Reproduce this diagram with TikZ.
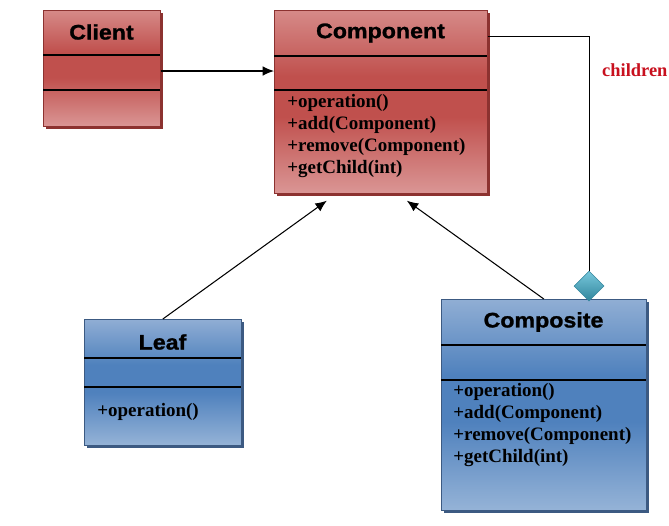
\documentclass[tikz,border=0pt]{standalone}
\usepackage{fontspec}
\setmainfont{Liberation Serif}
\newfontfamily\titlefont[FakeStretch=1.1,FakeBold=1.2]{Liberation Sans Bold}
\usepackage{tikz}
\usetikzlibrary{arrows.meta,calc,positioning,shapes.geometric,shadows}

\definecolor{redlt}{RGB}{218,150,149}
\definecolor{redtop}{RGB}{214,138,136}
\definecolor{reddk}{RGB}{192,80,77}
\definecolor{redsh}{RGB}{140,50,48}
\definecolor{bluelt}{RGB}{149,179,215}
\definecolor{bluetop}{RGB}{144,174,212}
\definecolor{bluedk}{RGB}{79,129,189}
\definecolor{bluesh}{RGB}{60,90,130}
\definecolor{tealdk}{RGB}{49,133,156}
\definecolor{teallt}{RGB}{120,200,220}
\definecolor{rolered}{RGB}{200,16,30}

\pgfdeclareverticalshading{redshade}{100bp}{color(0bp)=(redlt); color(25bp)=(redlt);
  color(46bp)=(reddk); color(57bp)=(reddk); color(75bp)=(redtop); color(100bp)=(redtop)}
\pgfdeclareverticalshading{blueshade}{100bp}{color(0bp)=(bluelt); color(25bp)=(bluelt);
  color(46bp)=(bluedk); color(57bp)=(bluedk); color(75bp)=(bluetop); color(100bp)=(bluetop)}

\begin{document}
\begin{tikzpicture}[
  x=0.02cm, y=-0.02cm,
  redbox/.style={rectangle, anchor=north west, inner sep=0pt, draw=redsh, line width=0.4pt,
    shading=redshade,
    drop shadow={shadow xshift=1.6pt, shadow yshift=-1.6pt, fill=redsh, opacity=1}},
  bluebox/.style={rectangle, anchor=north west, inner sep=0pt, draw=bluesh, line width=0.4pt,
    shading=blueshade,
    drop shadow={shadow xshift=1.6pt, shadow yshift=-1.6pt, fill=bluesh, opacity=1}},
  classname/.style={font=\titlefont\fontsize{12}{14}\selectfont},
  ops/.style={anchor=north west, align=left, inner sep=0pt,
    font=\bfseries\fontsize{10.8}{12.5}\selectfont},
  sep/.style={line width=0.6pt},
  assoc/.style={line width=0.6pt, -{Latex[length=6.5pt,width=5.5pt]}},
  agg/.style={diamond, minimum size=0.6cm, inner sep=0pt, draw=tealdk, line width=0.3pt,
    top color=teallt, bottom color=tealdk},
]
\useasboundingbox (0,0) rectangle (669,525);

% --- Client ---
\node[redbox, minimum width=2.34cm, minimum height=2.32cm] (client) at (43,10) {};
\node[classname] (clientname) at (101.5,32) {Client};
\draw[sep] (43,55) -- (160,55);
\draw[sep] (43,90) -- (160,90);

% --- Component ---
\node[redbox, minimum width=4.26cm, minimum height=3.66cm] (component) at (274,10) {};
\node[classname] (componentname) at (380.5,33) {Component};
\draw[sep] (274,56) -- (487,56);
\draw[sep] (274,90) -- (487,90);
\node[ops] (componentops) at (287,94)
  {+operation()\\+add(Component)\\+remove(Component)\\+getChild(int)};

% --- Leaf ---
\node[bluebox, minimum width=3.14cm, minimum height=2.52cm] (leaf) at (84,319) {};
\node[classname] (leafname) at (162.5,342) {Leaf};
\draw[sep] (84,358) -- (241,358);
\draw[sep] (84,387) -- (241,387);
\node[ops] (leafops) at (97,403) {+operation()};

% --- Composite ---
\node[bluebox, minimum width=4.10cm, minimum height=4.22cm] (composite) at (441,299) {};
\node[classname] (compositename) at (543.5,322) {Composite};
\draw[sep] (441,345) -- (646,345);
\draw[sep] (441,380) -- (646,380);
\node[ops] (compositeops) at (453,383)
  {+operation()\\+add(Component)\\+remove(Component)\\+getChild(int)};

% --- connectors ---
\draw[assoc] ($(client.north east)+(0,61)$) -- ($(component.north west)+(0,61)$);
\draw[assoc] (leaf.north) -- ($(component.south)+(-54,7)$);
\draw[assoc] (composite.north) -- ($(component.south)+(26,7)$);

\node[agg] (children) at (589,286) {};
\draw[line width=0.5pt] ($(component.north east)+(0,26)$) -| (children.north);
\node[font=\bfseries\fontsize{10.5}{12}\selectfont, text=rolered, anchor=west]
  (childrenlabel) at (596,70) {children};

\end{tikzpicture}
\end{document}
